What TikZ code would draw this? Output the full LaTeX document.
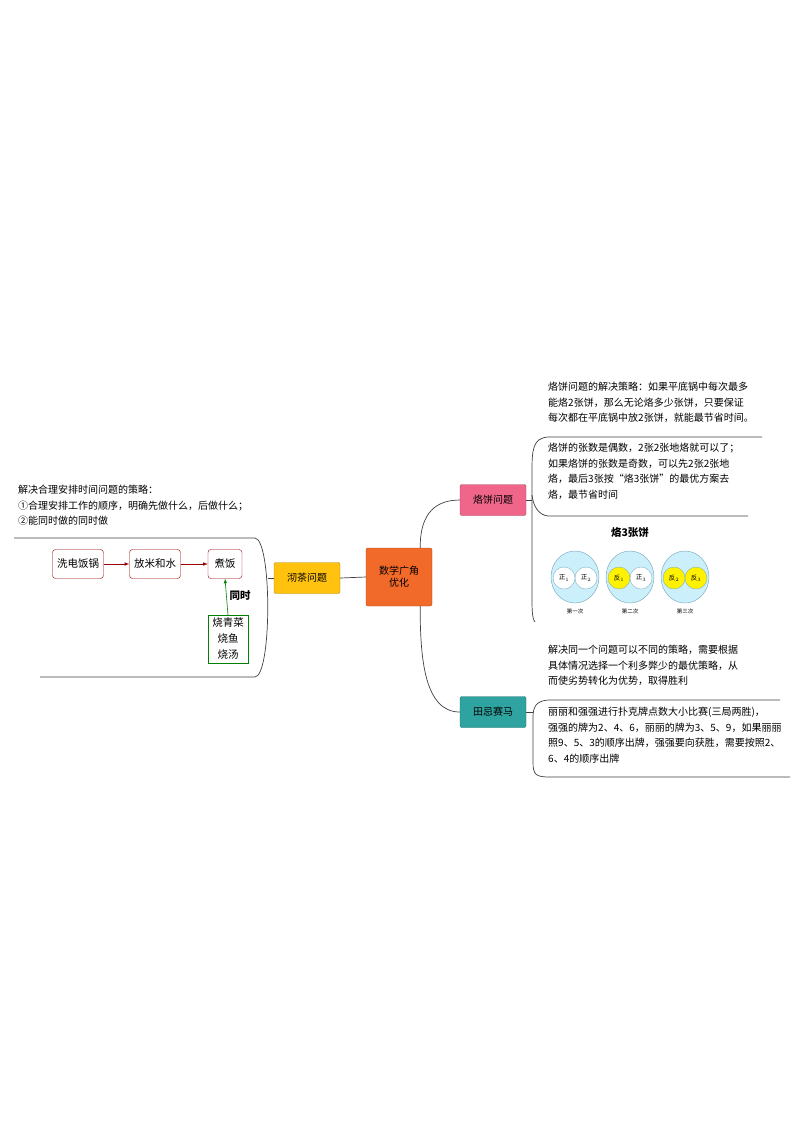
\documentclass[tikz,border=0pt]{standalone}
\usepackage{fontspec}
\setmainfont{Noto Sans CJK SC}
\begin{document}
\begin{tikzpicture}[x=1pt,y=-1pt,
  txt/.style={anchor=north west,inner sep=0pt,font=\fontsize{10}{15.5}\selectfont,align=left},
  topic/.style={rounded corners=2pt,minimum width=66pt,minimum height=31pt,font=\fontsize{10}{12}\selectfont,draw=#1!70!black,fill=#1},
  redbox/.style={draw=red!60!black,rounded corners=3pt,fill=white,minimum height=29pt,font=\fontsize{10.5}{12}\selectfont},
  ln/.style={line width=0.7pt,draw=black!75},
  big/.style={fill=cyan!20,draw=cyan!40!gray,line width=0.4pt},
  sm/.style={draw=cyan!40!gray,line width=0.3pt,inner sep=0pt,minimum size=22pt,circle,font=\fontsize{6.5}{7}\selectfont}]
\useasboundingbox (0,0) rectangle (794,1122);
\definecolor{org}{HTML}{F26A2A}\definecolor{yel}{HTML}{FFC20E}
\definecolor{pnk}{HTML}{F0668A}\definecolor{tel}{HTML}{2FA3A0}
\node[topic=org,minimum width=66pt,minimum height=58pt,align=center] (c) at (399,577) {数学广角\\优化};
\node[topic=yel] (a) at (307,578) {沏茶问题};
\node[topic=pnk] (b) at (493,500) {烙饼问题};
\node[topic=tel] (t) at (493,712) {田忌赛马};
\draw[ln] (c.west) -- (a.east);
\draw[ln] (c.north east)++(-12,0) coordinate (c1) .. controls (420,520) and (430,500) .. (b.west);
\draw[ln] (c.south east)++(-12,0) coordinate (c2) .. controls (420,660) and (425,712) .. (t.west);
% left bracket
\draw[ln] (14,538) -- (255,538) .. controls (272,540) and (272,675) .. (255,677) -- (40,677);
\coordinate (lb) at (268,578);
\draw[ln] (a.west) -- (lb);
\node[txt] at (18,485) {解决合理安排时间问题的策略：\\①合理安排工作的顺序，明确先做什么，后做什么；\\②能同时做的同时做};
\node[redbox,minimum width=51pt] (x1) at (78,564) {洗电饭锅};
\node[redbox,minimum width=51pt] (x2) at (155,564) {放米和水};
\node[redbox,minimum width=34pt] (x3) at (225,564) {煮饭};
\node[draw=green!50!black,fill=white,inner sep=3pt,align=center,font=\fontsize{10.5}{16}\selectfont,minimum width=40pt] (x4) at (228,639) {烧青菜\\烧鱼\\烧汤};
\draw[red!60!black,-latex,line width=0.6pt] (x1) -- (x2);
\draw[red!60!black,-latex,line width=0.6pt] (x2) -- (x3);
\draw[green!50!black,-latex,line width=0.6pt] (x4.north) -- (x3.south);
\node[font=\bfseries\fontsize{10.5}{12}\selectfont] (ts) at (240,596) {同时};
% right bracket top
\draw[ln] (762,437) -- (548,437) .. controls (533,438) and (532,450) .. (532,470) -- (532,600) .. controls (532,615) and (533,620) .. (535,622);
\draw[ln] (748,516) -- (548,516) .. controls (538,515) and (533,505) .. (532,495);
\draw[ln] (b.east) -- (532,500);
\node[txt] at (548,382) {烙饼问题的解决策略：如果平底锅中每次最多\\能烙2张饼，那么无论烙多少张饼，只要保证\\每次都在平底锅中放2张饼，就能最节省时间。};
\node[txt] at (548,443) {烙饼的张数是偶数，2张2张地烙就可以了；\\如果烙饼的张数是奇数，可以先2张2张地\\烙，最后3张按“烙3张饼”的最优方案去\\烙，最节省时间};
\node[font=\bfseries\fontsize{10.5}{12}\selectfont] (t3) at (630,532) {烙3张饼};
\foreach \cx/\a/\b/\fa/\fb/\lab [count=\i] in {575/正$_1$/正$_2$/white/white/第一次,630/反$_1$/正$_3$/yellow/white/第二次,685/反$_2$/反$_3$/yellow/yellow/第三次}{
  \draw[big] (\cx,577) ellipse (24pt and 26pt);
  \node[sm,fill=\fa] (p\i) at (\cx-11,578) {\a};
  \node[sm,fill=\fb] (q\i) at (\cx+11,578) {\b};
  \node[font=\fontsize{5.5}{6}\selectfont] (l\i) at (\cx,611) {\lab};
}
% tianji bracket
\draw[ln] (780,700) -- (548,700) .. controls (535,701) and (533,708) .. (533,718) -- (533,762) .. controls (533,775) and (536,777) .. (550,777) -- (790,777);
\draw[ln] (t.east) -- (533,712);
\node[txt] at (548,645) {解决同一个问题可以不同的策略，需要根据\\具体情况选择一个利多弊少的最优策略，从\\而使劣势转化为优势，取得胜利};
\node[txt] at (548,707) {丽丽和强强进行扑克牌点数大小比赛(三局两胜)，\\强强的牌为2、4、6，丽丽的牌为3、5、9，如果丽丽\\照9、5、3的顺序出牌，强强要向获胜，需要按照2、\\6、4的顺序出牌};
\end{tikzpicture}
\end{document}
